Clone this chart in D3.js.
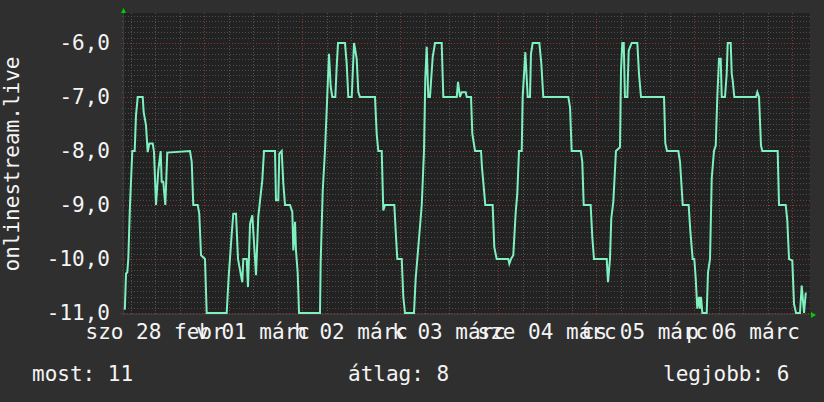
<!DOCTYPE html>
<html lang="hu">
<head>
    <meta charset="UTF-8">
    <title>onlinestream.live</title>
    <script src="https://d3js.org/d3.v7.min.js"></script>
    <style>
        body { margin: 0; background: #2f2f2f; }
        svg { display: block; }
        text { font-family: "DejaVu Sans Mono", monospace; font-size: 21px; fill: #f4f4f4; }
    </style>
</head>
<body>
    <div id="chart"></div>
    <script>
        // hours since 2015-02-28 04:24, helyezés (rank)
        const samples = [
            [0.2,10.94],[0.5,10.27],[0.8,10.25],[1.05,10.0],[1.47,9.0],[2.03,8.0],[2.62,8.0],[2.94,7.34],
            [3.36,7.0],[4.58,7.0],[4.82,7.28],[5.39,7.52],[5.8,8.02],[6.2,7.86],[7.03,7.86],[7.35,8.02],
            [7.84,9.0],[8.4,8.36],[8.99,8.0],[9.23,8.57],[9.62,8.57],[10.11,9.0],[10.6,8.03],[16.16,8.0],
            [16.58,8.2],[16.97,9.0],[18.05,9.0],[18.44,9.16],[18.86,9.93],[19.84,10.0],[20.25,11.0],[25.15,11.0],
            [25.64,10.33],[26.38,9.53],[26.77,9.16],[27.43,9.16],[27.92,10.0],[28.97,10.43],[29.22,10.0],[30.05,10.0],
            [30.37,10.52],[30.86,9.35],[31.42,9.19],[32.33,10.3],[32.89,9.22],[33.87,8.54],[34.29,8.0],[36.98,8.0],
            [37.22,8.91],[37.79,8.91],[38.03,8.05],[38.62,8.0],[39.01,8.6],[39.43,9.0],[40.65,9.0],[41.22,9.13],
            [41.46,9.84],[41.88,9.31],[42.12,9.84],[42.54,10.25],[42.86,11.0],[48.0,11.0],
            [48.17,10.06],[48.66,8.73],[49.22,8.0],[49.64,7.25],[50.2,6.2],[50.62,6.81],[51.01,7.0],[51.75,7.0],
            [52.09,6.44],[52.41,6.0],[54.12,6.0],[54.54,6.38],[54.93,7.0],[55.76,7.0],[56.33,6.0],[56.99,6.29],
            [57.38,6.91],[57.8,7.0],[61.47,7.0],[61.89,7.68],[62.28,8.0],[63.11,8.0],[63.5,9.1],[63.92,9.0],
            [66.2,9.0],[66.61,9.59],[66.93,10.0],[68.01,10.0],[68.4,10.7],[68.82,11.0],[71.02,11.0],[71.44,10.36],
            [71.83,10.0],[72.91,9.0],[73.47,8.0],[73.79,6.66],[74.13,6.07],[74.52,7.0],[74.94,7.0],[75.6,6.26],
            [76.16,6.0],[77.8,6.0],[78.2,7.0],[81.48,7.0],[81.8,6.72],[82.29,7.0],[82.7,6.91],[83.68,6.91],
            [83.93,7.0],[84.98,7.0],[85.3,7.68],[85.96,8.0],[87.43,8.0],[87.67,8.3],[88.48,9.0],[90.29,9.0],
            [90.69,9.78],[91.27,10.0],[94.12,10.0],[94.36,10.09],[94.78,10.0],[95.34,9.93],[95.93,9.13],[96.32,8.79],
            [96.74,8.0],[97.4,8.0],[97.64,7.0],[98.28,6.17],[98.87,7.0],[99.43,7.0],[99.67,6.2],[100.09,6.0],
            [101.71,6.0],[102.2,6.38],[102.69,7.0],[108.81,7.0],[109.23,7.19],[109.64,8.0],[111.85,8.0],[112.24,8.2],
            [112.58,9.0],[114.29,9.0],[114.69,9.59],[115.1,10.0],[118.21,10.0],[118.53,10.43],[119.02,10.0],[119.34,9.25],
            [119.83,8.94],[120.49,8.0],[121.47,7.93],[121.72,6.51],[122.03,6.0],[122.38,6.0],[122.69,7.0],[123.26,7.0],
            [123.6,6.14],[124.34,6.0],[125.71,6.0],[126.12,6.57],[126.61,7.0],[132.25,7.0],[132.56,7.86],[132.98,8.0],
            [135.75,8.0],[136.16,8.2],[136.83,9.0],[138.29,9.0],[138.69,9.47],[139.27,10.0],[139.67,10.0],[140.01,10.36],
            [140.4,10.92],[140.82,10.7],[141.06,10.92],[141.31,10.7],[141.63,11.0],[142.7,11.0],[143.02,10.25],[143.51,10.0],
            [143.93,8.51],[144.49,8.0],[144.91,7.9],[145.3,7.0],[145.72,6.29],[146.13,6.29],[146.38,7.0],[147.18,7.0],
            [147.6,6.57],[147.85,6.0],[148.58,6.0],[148.83,6.57],[149.07,6.69],[149.46,7.0],[154.78,7.0],[155.1,6.91],
            [155.51,7.0],[156.0,7.9],[156.32,8.0],[160.09,8.0],[160.41,9.0],[162.05,9.0],[162.44,9.28],[162.86,10.0],
            [163.67,10.03],[164.08,10.83],[164.57,11.0],[165.55,11.0],[165.97,10.49],[166.53,11.0],[166.95,10.64],[167.19,10.64]
        ];
        const dayLabels = ['szo 28 febr', 'v 01 márc', 'h 02 márc', 'k 03 márc', 'sze 04 márc', 'cs 05 márc', 'p 06 márc'];
        const yTicks = [-11, -10, -9, -8, -7, -6];
        const legendNames = ['most', 'átlag', 'legjobb'];
        const legendValues = [11, 8, 6];
        const title = 'onlinestream.live';

        const width = 824, height = 402;
        const plotLeft = 124, plotRight = 810, plotTop = 13, plotBottom = 313;
        const start = new Date(2015, 1, 28, 4, 24);
        const end = d3.timeHour.offset(start, 168);

        const fmt = d3.formatLocale({decimal: ',', thousands: ' ', grouping: [3], currency: ['', ''], minus: '-'}).format('.1f');

        const x = d3.scaleTime().domain([start, end]).range([plotLeft, plotRight]);
        const y = d3.scaleLinear().domain([-11, -6 + (43 - plotTop) / 54]).range([plotBottom, plotTop]);

        const svg = d3.select('#chart').append('svg')
            .attr('width', width).attr('height', height);

        svg.append('rect').attr('width', width).attr('height', height).attr('fill', '#2f2f2f');
        svg.append('rect')
            .attr('x', plotLeft).attr('y', plotTop)
            .attr('width', plotRight - plotLeft).attr('height', plotBottom - plotTop)
            .attr('fill', '#222222');

        // minor horizontal grid every 0.1
        const minorY = d3.range(-110, -54).map(d => d / 10).filter(d => d % 1 !== 0);
        svg.append('g').selectAll('line').data(minorY).enter().append('line')
            .attr('x1', plotLeft - 2).attr('x2', plotRight)
            .attr('y1', d => Math.round(y(d)) + 0.5).attr('y2', d => Math.round(y(d)) + 0.5)
            .attr('stroke', '#4c4c4c').attr('stroke-dasharray', '1,2');

        // vertical grid every 6 hours, red at midnight
        const vTimes = d3.timeHour.every(6).range(start, end);
        svg.append('g').selectAll('line').data(vTimes).enter().append('line')
            .attr('x1', d => Math.round(x(d)) + 0.5).attr('x2', d => Math.round(x(d)) + 0.5)
            .attr('y1', plotTop).attr('y2', plotBottom + 3)
            .attr('stroke', d => d.getHours() === 0 ? '#8a3434' : '#555555')
            .attr('stroke-dasharray', '1,2');

        // major horizontal grid
        svg.append('g').selectAll('line').data(yTicks).enter().append('line')
            .attr('x1', plotLeft - 3).attr('x2', plotRight)
            .attr('y1', d => Math.round(y(d)) + 0.5).attr('y2', d => Math.round(y(d)) + 0.5)
            .attr('stroke', '#8a3434').attr('stroke-dasharray', '1,2');

        // axes
        svg.append('line').attr('x1', plotLeft - 3).attr('x2', plotRight + 3)
            .attr('y1', plotBottom + 1.5).attr('y2', plotBottom + 1.5).attr('stroke', '#3c3c3c');
        svg.append('line').attr('x1', plotLeft - 0.5).attr('x2', plotLeft - 0.5)
            .attr('y1', plotTop - 3).attr('y2', plotBottom + 3).attr('stroke', '#3c3c3c');
        svg.append('path')
            .attr('d', `M${plotLeft - 3},${plotTop} L${plotLeft + 2},${plotTop} L${plotLeft - 0.5},${plotTop - 5} Z`)
            .attr('fill', '#00cc00');
        svg.append('path')
            .attr('d', `M${plotRight + 1},${plotBottom - 1} L${plotRight + 1},${plotBottom + 5} L${plotRight + 6},${plotBottom + 2} Z`)
            .attr('fill', '#00cc00');

        // y tick labels
        svg.append('g').selectAll('text').data(yTicks).enter().append('text')
            .attr('x', 110).attr('y', d => y(d) + 7)
            .attr('text-anchor', 'end')
            .text(d => fmt(d));

        // x labels at noon
        const days = d3.timeDay.range(d3.timeDay.floor(start), end);
        svg.append('g').selectAll('text').data(days).enter().append('text')
            .attr('x', d => x(d3.timeHour.offset(d, 12)))
            .attr('y', 339)
            .attr('text-anchor', 'middle')
            .text((d, i) => dayLabels[i]);

        // y title
        svg.append('text')
            .attr('transform', 'translate(19,164) rotate(-90)')
            .attr('text-anchor', 'middle')
            .text(title);

        // series
        const line = d3.line()
            .x(d => x(d3.timeMinute.offset(start, Math.round(d[0] * 60))))
            .y(d => y(-d[1]));
        svg.append('path')
            .datum(samples)
            .attr('d', line)
            .attr('fill', 'none')
            .attr('stroke', '#7ff0bf')
            .attr('stroke-width', 2);

        // legend
        const legendX = [32, 348, 663];
        svg.append('g').selectAll('text').data(legendNames).enter().append('text')
            .attr('x', (d, i) => legendX[i]).attr('y', 381)
            .text((d, i) => `${d}: ${legendValues[i]}`);
    </script>
</body>
</html>
